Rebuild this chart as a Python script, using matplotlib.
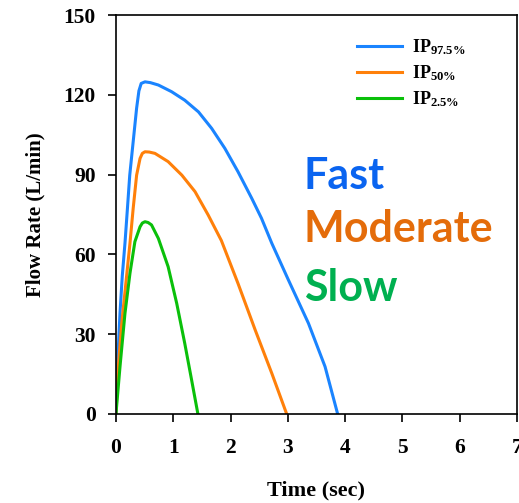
import matplotlib
matplotlib.use('Agg')
import matplotlib.pyplot as plt

plt.rcParams['font.family'] = 'Liberation Serif'
plt.rcParams['font.weight'] = 'bold'
plt.rcParams['mathtext.fontset'] = 'custom'
plt.rcParams['mathtext.rm'] = 'Liberation Serif:bold'
plt.rcParams['mathtext.it'] = 'Liberation Serif:bold'
plt.rcParams['mathtext.bf'] = 'Liberation Serif:bold'

# flow profiles (time in sec, flow in L/min)
t_fast = [0, 0.01, 0.03, 0.07, 0.11, 0.157, 0.2, 0.24, 0.3, 0.36, 0.4, 0.44, 0.506, 0.6, 0.74, 0.97, 1.2, 1.44,
          1.67, 1.9, 2.13, 2.37, 2.54, 2.72, 3.01, 3.36, 3.65, 3.87]
q_fast = [0, 8, 20, 38, 52, 64.3, 77.4, 89.8, 102.4, 115, 121.5, 124.3, 124.9, 124.6, 123.7, 121.2, 118, 113.6,
          107.4, 99.9, 91.1, 81.1, 73.6, 64.2, 50.4, 34.1, 17.8, 0]

t_mod = [0, 0.03, 0.1, 0.19, 0.244, 0.3, 0.36, 0.42, 0.46, 0.506, 0.58, 0.68, 0.91, 1.15, 1.38, 1.61, 1.84,
         2.13, 2.43, 2.72, 2.98]
q_mod = [0, 15, 34, 52.9, 64.2, 77.3, 89.8, 96.1, 98.0, 98.6, 98.5, 98.0, 94.9, 89.8, 83.6, 74.8, 65.2,
         49.1, 31.6, 15.3, 0]

t_slow = [0, 0.01, 0.07, 0.157, 0.244, 0.33, 0.42, 0.46, 0.506, 0.56, 0.62, 0.74, 0.91, 1.06, 1.2, 1.32, 1.43]
q_slow = [0, 2.7, 17.8, 37.9, 52.9, 64.8, 70.4, 71.8, 72.3, 72.0, 71.1, 66, 55.4, 41.6, 26.6, 12.8, 0]

labels = [r'$\mathrm{IP}_{97.5\%}$', r'$\mathrm{IP}_{50\%}$', r'$\mathrm{IP}_{2.5\%}$']
line_colors = ['#1a84ff', '#ff800a', '#0ac00a']

fig = plt.figure(figsize=(5.19, 5.03), dpi=100)
ax = fig.add_axes([0.2235, 0.177, 0.7725, 0.793])

ax.plot(t_fast, q_fast, color=line_colors[0], lw=2.2, label=labels[0])
ax.plot(t_mod, q_mod, color=line_colors[1], lw=2.2, label=labels[1])
ax.plot(t_slow, q_slow, color=line_colors[2], lw=2.2, label=labels[2])

ax.set_xlim(0, 7)
ax.set_ylim(0, 150)
ax.set_xticks(range(0, 8))
ax.set_yticks(range(0, 151, 30))
ax.tick_params(direction='out', length=5.5, width=1.2, labelsize=15.5, pad=12)
ax.tick_params(axis='y', pad=9)
for s in ax.spines.values():
    s.set_linewidth(1.2)

ax.set_xlabel('Time (sec)', fontsize=16, fontweight='bold', labelpad=16)
ax.set_ylabel('Flow Rate (L/min)', fontsize=15, fontweight='bold', labelpad=13)

ax.legend(loc='upper left', bbox_to_anchor=(0.601, 0.944), frameon=False, fontsize=13,
          borderaxespad=0, borderpad=0, handlelength=2.5, handletextpad=0.55, labelspacing=0.35)

ax.text(3.28, 89.6, 'Fast', color='#0a64f0', fontsize=31, fontweight='bold', family='Lato', va='center')
ax.text(3.28, 69.5, 'Moderate', color='#e46c0a', fontsize=31, fontweight='bold', family='Lato', va='center')
ax.text(3.28, 47.5, 'Slow', color='#00b050', fontsize=31, fontweight='bold', family='Lato', va='center')

fig.savefig('out.png', dpi=100)
